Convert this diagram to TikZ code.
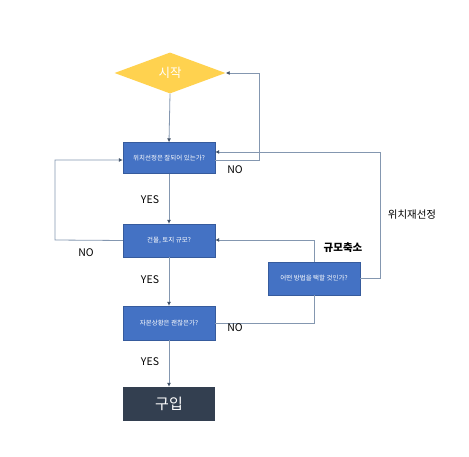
\documentclass[tikz,border=0pt]{standalone}
\usepackage{fontspec}
\setmainfont{Noto Sans CJK KR}
\usetikzlibrary{shapes.geometric,arrows.meta}
\definecolor{boxblue}{HTML}{4472C4}
\definecolor{gold}{HTML}{FFD24F}
\definecolor{slate}{HTML}{333F50}
\definecolor{linec}{HTML}{8497B0}
\definecolor{tipc}{HTML}{44546A}
\tikzset{
  qbox/.style={rectangle,fill=boxblue,draw=boxblue!80!black,line width=0.3pt,minimum width=92pt,minimum height=31pt,inner sep=0pt,text=white,font=\fontsize{6.5}{7}\selectfont},
  conn/.style={draw=linec,line width=0.8pt,-{Latex[length=4pt,width=4pt,color=tipc]}},
  plain/.style={draw=linec,line width=0.8pt},
  lbl/.style={font=\fontsize{10.5}{12}\selectfont,text=black},
}
\begin{document}
\begin{tikzpicture}[x=1pt,y=-1pt]
\useasboundingbox (0,0) rectangle (469,457);
\fill[white] (0,0) rectangle (469,457);
\node[diamond,fill=gold,minimum width=111pt,minimum height=41pt,aspect=2.7,inner sep=0pt,text=white,font=\fontsize{12.5}{14}\selectfont] (start) at (170,73) {시작};
\node[qbox] (q1) at (169,158) {위치선정은 잘되어 있는가?};
\node[qbox,minimum height=33pt] (q2) at (169,240.5) {건물, 토지 규모?};
\node[qbox,minimum height=34pt] (q3) at (169,323) {자본상황은 괜찮은가?};
\node[qbox,minimum height=33pt] (q4) at (314,278.5) {어떤 방법을 택할 것인가?};
\node[rectangle,fill=slate,minimum width=92pt,minimum height=34pt,inner sep=0pt,text=white,font=\fontsize{15}{17}\selectfont] (buy) at (169,404) {구입};
% vertical main flow
\draw[conn] (start.south) -- (q1.north);
\draw[conn] (q1.south) -- (q2.north);
\draw[conn] (q2.south) -- (q3.north);
\draw[conn] (q3.south) -- (buy.north);
% q1 NO back to start
\coordinate (a1) at (259,160);
\coordinate (a2) at (259,73);
\draw[conn] (q1.east |- a1) -- (a1) -- (a2) -- (start.east);
% q2 NO back to q1
\coordinate (b1) at (55,240);
\coordinate (b2) at (55,160);
\draw[conn] (q2.west) -- (b1) -- (b2) -- (q1.west |- b2);
% q3 NO to q4
\coordinate (c1) at (314,323);
\draw[plain] (q3.east) -- (c1) -- (q4.south);
% q4 scale down -> q2
\coordinate (d1) at (314,240);
\draw[conn] (q4.north) -- (d1) -- (q2.east |- d1);
% q4 relocate -> q1
\coordinate (e1) at (380,278.5);
\coordinate (e2) at (380,152);
\draw[conn] (q4.east) -- (e1) -- (e2) -- (q1.east |- e2);
% labels
\node[lbl] (n1) at (235,170) {NO};
\node[lbl] (n2) at (86,253) {NO};
\node[lbl] (n3) at (235,328) {NO};
\node[lbl] (y1) at (150,200) {YES};
\node[lbl] (y2) at (150,280) {YES};
\node[lbl] (y3) at (150,362) {YES};
\node[lbl,font=\fontsize{10.5}{12}\selectfont\bfseries] (l1) at (343,248) {규모축소};
\node[lbl] (l2) at (412,215) {위치재선정};
\end{tikzpicture}
\end{document}
